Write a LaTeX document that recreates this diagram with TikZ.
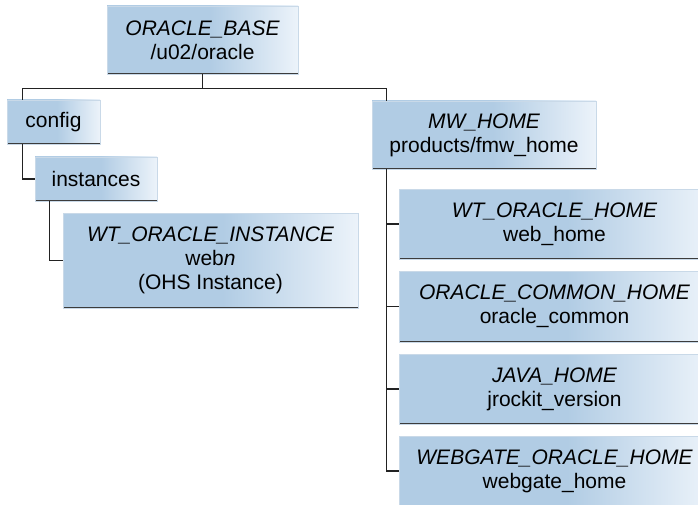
\documentclass[tikz,border=0pt]{standalone}
\usepackage{fontspec}
\setmainfont{Liberation Sans}
\definecolor{boxblue}{HTML}{B1CCE4}
\definecolor{boxlight}{HTML}{ECF3FA}
\definecolor{boxedge}{HTML}{3C3C3C}
\definecolor{boxrim}{HTML}{C9D9E8}
\definecolor{wire}{HTML}{222222}
\pgfdeclarehorizontalshading{dirshade}{100bp}{color(0bp)=(boxblue); color(25bp)=(boxblue); color(52bp)=(boxblue); color(75bp)=(boxlight); color(100bp)=(boxlight)}
\tikzset{
  dirbox/.style={draw=boxrim, line width=0.6pt, shading=dirshade, inner sep=0pt,
    align=center, font=\fontsize{21}{24}\selectfont,
    path picture={\draw[boxedge, line width=2.4pt] (path picture bounding box.north west) -- (path picture bounding box.south west) -- (path picture bounding box.south east);}},
  tree/.style={wire, line width=1.3pt}
}
\begin{document}
\begin{tikzpicture}[x=1pt, y=1pt]
        \path[use as bounding box, clip] (0,0) rectangle (698,-505);

        % Define the directories
        \node[dirbox, minimum width=191, minimum height=68] (base) at (202.5,-40) {{\itshape ORACLE\_BASE}\\/u02/oracle};
        \node[dirbox, minimum width=93, minimum height=44] (config) at (53.5,-122) {config};
        \node[dirbox, minimum width=122, minimum height=44] (inst) at (96,-179) {instances};
        \node[dirbox, minimum width=295, minimum height=95] (wti) at (210.5,-260.5) {{\itshape WT\_ORACLE\_INSTANCE}\\web{\itshape n}\\(OHS Instance)};

        \node[dirbox, minimum width=224, minimum height=68] (mw) at (484,-135) {{\itshape MW\_HOME}\\products/fmw\_home};
        \node[dirbox, minimum width=311, minimum height=70] (wth) at (554.5,-224) {{\itshape WT\_ORACLE\_HOME}\\web\_home};
        \node[dirbox, minimum width=311, minimum height=71] (och) at (554.5,-306.5) {{\itshape ORACLE\_COMMON\_HOME}\\oracle\_common};
        \node[dirbox, minimum width=311, minimum height=70] (java) at (554.5,-389) {{\itshape JAVA\_HOME}\\jrockit\_version};
        \node[dirbox, minimum width=311, minimum height=70] (wg) at (554.5,-471) {{\itshape WEBGATE\_ORACLE\_HOME}\\webgate\_home};

        % Define the tree lines
        \draw[tree] (base.south) -- ++(0,-14) coordinate (bus);
        \draw[tree] ([xshift=16]config.north west) |- (bus) -| ([xshift=15]mw.north west);
        \draw[tree] ([xshift=16]config.south west) |- (inst.west);
        \draw[tree] ([xshift=15]inst.south west) |- (wti.west);
        \draw[tree] ([xshift=15]mw.south west) |- (wg.west);
        \foreach \kid in {wth, och, java}
            \draw[tree] ([xshift=15]mw.south west |- \kid.west) -- (\kid.west);

\end{tikzpicture}
\end{document}
